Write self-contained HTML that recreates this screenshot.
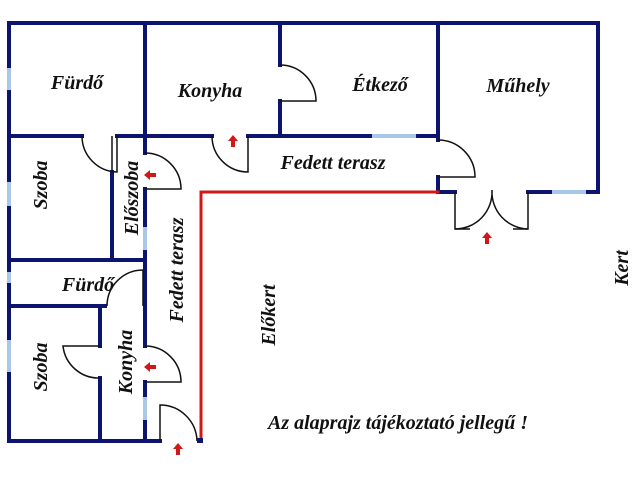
<!DOCTYPE html>
<html><head><meta charset="utf-8"><style>
html,body{margin:0;padding:0;background:#fff;width:640px;height:480px;overflow:hidden}
text{font-family:"Liberation Serif",serif;font-weight:bold;font-style:italic;font-size:20px;fill:#111}
</style></head><body>
<svg width="640" height="480" viewBox="0 0 640 480" xmlns="http://www.w3.org/2000/svg">
<g stroke="#0c1470" stroke-width="4" fill="none" stroke-linecap="square">
<path d="M9,23 H598 V192 H528"/>
<path d="M9,23 V441 H160"/>
<path d="M145,23 V136"/>
<path d="M9,136 H82"/>
<path d="M117,136 H212"/>
<path d="M248,136 H438"/>
<path d="M280,23 V65 M280,101 V136"/>
<path d="M438,23 V140 M438,177 V192 H455"/>
<path d="M201,192 H438" stroke="#d01818" stroke-width="3"/>
<path d="M201,192 V440" stroke="#d01818" stroke-width="3"/>
<path d="M112,172 V260"/>
<path d="M145,136 V153 M145,189 V346 M145,382 V441"/>
<path d="M9,260 H145"/>
<path d="M9,306 H105"/>
<path d="M100,306 V346 M100,378 V441"/>
</g>
<g stroke="#a9c7e6" stroke-width="4">
<path d="M9,68 V90 M9,182 V206 M9,272 V283 M9,340 V372"/>
<path d="M372,136 H416 M552,192 H586"/>
<path d="M145,227 V250 M145,397 V420"/>
</g>
<g stroke="#111" stroke-width="1.5" fill="none">
<path d="M82,136 A36 36 0 0 0 117,172 V136"/>
<path d="M112,136 V172"/>
<path d="M212,136 A36 36 0 0 0 248,172 V136"/>
<path d="M280,65 A36 36 0 0 1 316,101 H280"/>
<path d="M438,140 A37 37 0 0 1 475,177 H438"/>
<path d="M455,192 V229 H470"/>
<path d="M528,192 V229 H513"/>
<path d="M455,229 A37 37 0 0 0 492,190 A37 37 0 0 0 528,229"/>
<path d="M145,153 A36 36 0 0 1 181,189 H145"/>
<path d="M143,270 V306"/>
<path d="M143,270 A36 36 0 0 0 107,306"/>
<path d="M100,346 H63 A36 36 0 0 0 100,378"/>
<path d="M145,346 A36 36 0 0 1 181,382 H145"/>
<path d="M160,441 V405 A37 37 0 0 1 197,441"/>
</g>
<rect x="197" y="438" width="6" height="5" fill="#0c1470"/>
<g fill="#d01818">
<path d="M233,135 l-5,6 h3 v6 h4 v-6 h3 z"/>
<path d="M487,232 l-5,6 h3 v6 h4 v-6 h3 z"/>
<path d="M178,443 l-5,6 h3 v6 h4 v-6 h3 z"/>
<path d="M144,175 l6,-5 v3 h6 v4 h-6 v3 z"/>
<path d="M144,367 l6,-5 v3 h6 v4 h-6 v3 z"/>
</g>
<text x="77" y="89" text-anchor="middle">Fürdő</text>
<text x="210" y="97" text-anchor="middle">Konyha</text>
<text x="380" y="91" text-anchor="middle">Étkező</text>
<text x="518" y="92" text-anchor="middle">Műhely</text>
<text x="333" y="169" text-anchor="middle">Fedett terasz</text>
<text x="88" y="291" text-anchor="middle">Fürdő</text>
<text transform="translate(47,185) rotate(-90)" text-anchor="middle">Szoba</text>
<text transform="translate(138,198) rotate(-90)" text-anchor="middle">Előszoba</text>
<text transform="translate(183,270) rotate(-90)" text-anchor="middle">Fedett terasz</text>
<text transform="translate(47,367) rotate(-90)" text-anchor="middle">Szoba</text>
<text transform="translate(132,362) rotate(-90)" text-anchor="middle">Konyha</text>
<text transform="translate(275,315) rotate(-90)" text-anchor="middle">Előkert</text>
<text transform="translate(628,268) rotate(-90)" text-anchor="middle">Kert</text>
<text x="268" y="429">Az alaprajz tájékoztató jellegű !</text>
</svg>
</body></html>
